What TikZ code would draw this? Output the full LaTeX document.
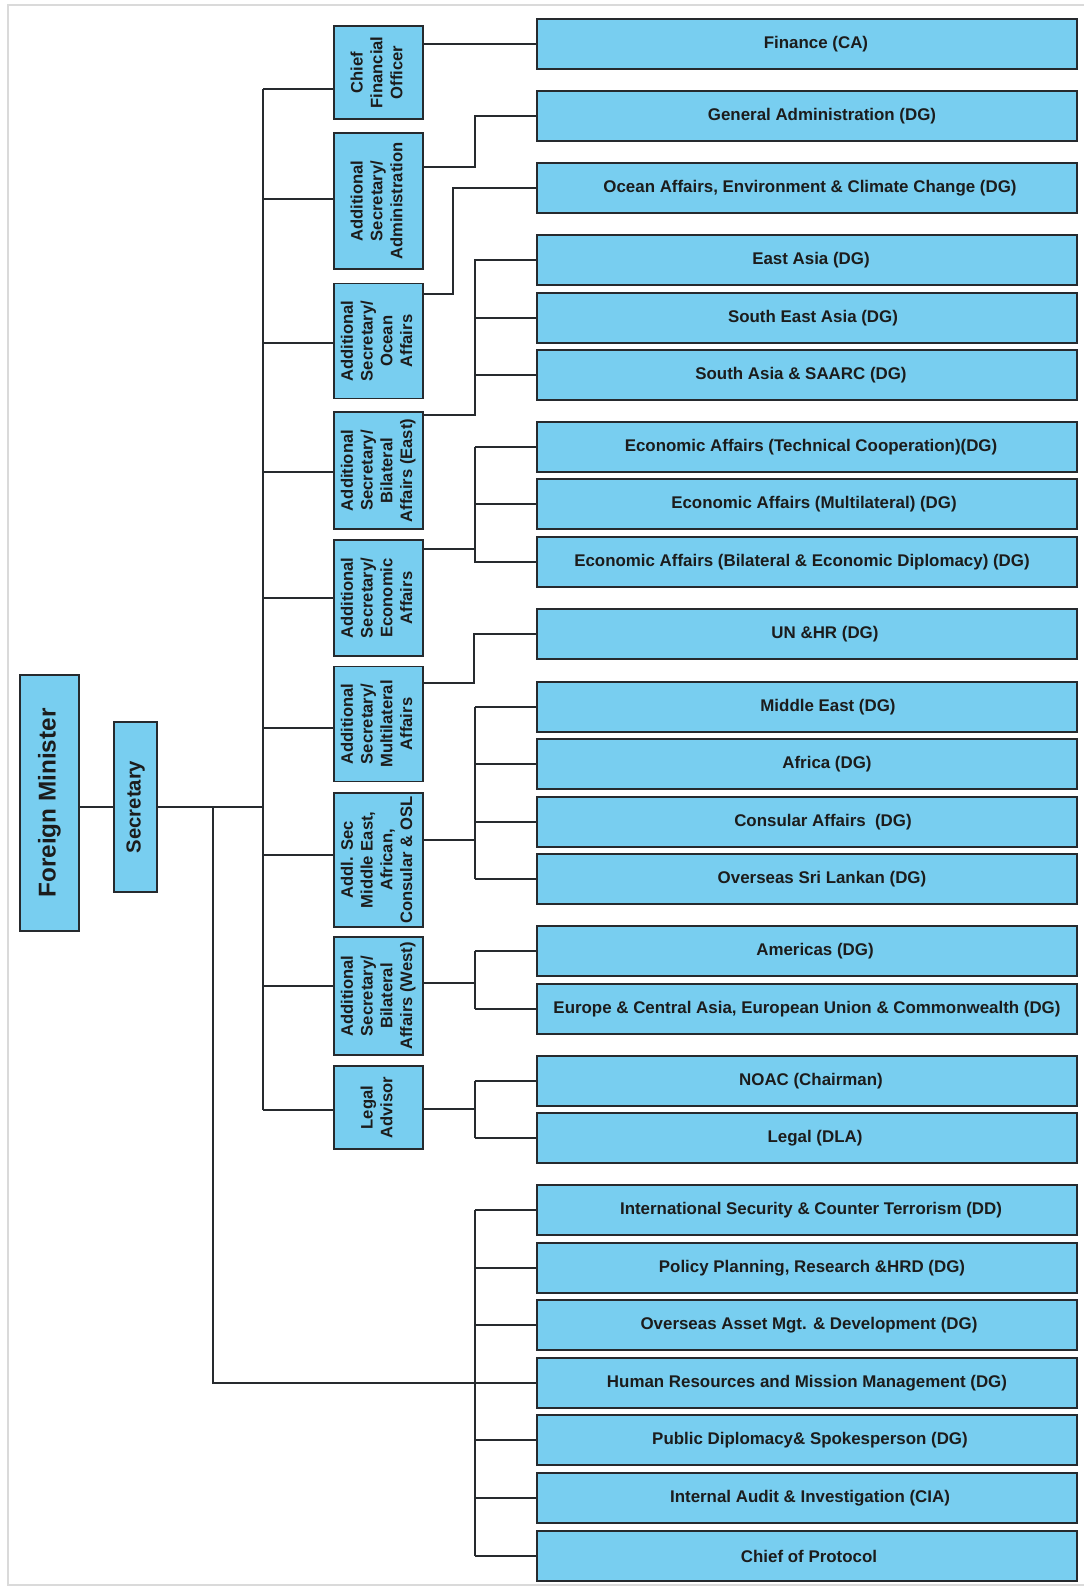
\documentclass[tikz,border=0pt]{standalone}
\usepackage{fontspec}
\usepackage{graphicx}
\setmainfont{Liberation Sans}
\usetikzlibrary{calc}
\definecolor{boxblue}{HTML}{78CEF0}
\definecolor{edge}{HTML}{262A2E}
\definecolor{txt}{HTML}{1C1C1C}
\definecolor{framegray}{HTML}{DADADA}
\newcommand{\vlab}[1]{\rotatebox{90}{\begin{tabular}{@{}c@{}}#1\end{tabular}}}
\newcommand{\shft}[1]{\hspace*{#1pt}}
\begin{document}
\begin{tikzpicture}[x=1pt,y=-1pt,
  box/.style={draw=edge, fill=boxblue, line width=1.8pt, inner sep=0pt, text=txt},
  rbox/.style={box, minimum width=540pt, minimum height=50.5pt, font=\fontsize{16.9}{20}\selectfont\bfseries},
  mbox/.style={box, minimum width=89pt, font=\fontsize{16.6}{19.8}\selectfont\bfseries},
  conn/.style={draw=edge, line width=1.9pt}]
\useasboundingbox (0,0) rectangle (1084,1588);
\draw[framegray, line width=1.5pt] (1084,5) -- (8,5) -- (8,1585) -- (1084,1585);

% left column
\node[box, minimum width=58.7pt, minimum height=256pt, font=\fontsize{24.3}{28}\selectfont\bfseries] (fm) at (49.3,803) {\rotatebox{90}{Foreign Minister}};
\node[box, minimum width=43.3pt, minimum height=170pt, font=\fontsize{20.3}{23}\selectfont\bfseries] (sec) at (135.7,807) {\rotatebox{90}{Secretary}};

% middle column
\node[mbox, minimum height=93pt] (cfo) at (378.5,72.5) {\vlab{Chief\\Financial\\Officer}};
\node[mbox, minimum height=136pt] (adm) at (378.5,201) {\vlab{Additional\\Secretary/\\Administration}};
\node[mbox, minimum height=115pt] (ocn) at (378.5,341) {\vlab{Additional\\Secretary/\\Ocean\\Affairs}};
\node[mbox, minimum height=117.6pt] (be) at (378.5,470.5) {\vlab{Additional\\Secretary/\\Bilateral\\Affairs (East)}};
\node[mbox, minimum height=115.7pt] (ec) at (378.5,598) {\vlab{Additional\\Secretary/\\Economic\\Affairs}};
\node[mbox, minimum height=115pt] (mu) at (378.5,724) {\vlab{Additional\\Secretary/\\Multilateral\\Affairs}};
\node[mbox, minimum height=134pt] (mea) at (378.5,860) {\vlab{Addl. Sec\\Middle East,\\African,\\Consular \& OSL}};
\node[mbox, minimum height=118pt] (bw) at (378.5,996) {\vlab{Additional\\Secretary/\\Bilateral\\Affairs (West)}};
\node[mbox, minimum height=83pt] (la) at (378.5,1107.5) {\vlab{Legal\\Advisor}};

% right column
\node[rbox] (fin) at (807,44) {\shft{18}Finance (CA)};
\node[rbox] (ga) at (807,116) {\shft{30}General Administration (DG)};
\node[rbox] (oa) at (807,188) {\shft{6}Ocean Affairs, Environment \& Climate Change (DG)};
\node[rbox] (ea) at (807,260) {\shft{8}East Asia (DG)};
\node[rbox] (sea) at (807,318) {\shft{12}South East Asia (DG)};
\node[rbox] (sa) at (807,375) {\shft{-12}South Asia \& SAARC (DG)};
\node[rbox] (tc) at (807,447) {\shft{8}Economic Affairs (Technical Cooperation)(DG)};
\node[rbox] (em) at (807,504) {\shft{14}Economic Affairs (Multilateral) (DG)};
\node[rbox] (eb) at (807,562) {\shft{-10}Economic Affairs (Bilateral \& Economic Diplomacy) (DG)};
\node[rbox] (un) at (807,634) {\shft{36}UN \&HR (DG)};
\node[rbox] (mde) at (807,707) {\shft{42}Middle East (DG)};
\node[rbox] (af) at (807,764) {\shft{40}Africa (DG)};
\node[rbox] (co) at (807,822) {\shft{32}Consular Affairs\ \ (DG)};
\node[rbox] (os) at (807,879) {\shft{30}Overseas Sri Lankan (DG)};
\node[rbox] (am) at (807,951) {\shft{16}Americas (DG)};
\node[rbox] (eu) at (807,1009) {Europe \& Central Asia, European Union \& Commonwealth (DG)};
\node[rbox] (no) at (807,1081) {\shft{8}NOAC (Chairman)};
\node[rbox] (lg) at (807,1138) {\shft{16}Legal (DLA)};
\node[rbox] (is) at (807,1210) {\shft{8}International Security \& Counter Terrorism (DD)};
\node[rbox] (pp) at (807,1268) {\shft{10}Policy Planning, Research \&HRD (DG)};
\node[rbox] (oam) at (807,1325) {\shft{4}Overseas Asset Mgt. \& Development (DG)};
\node[rbox] (hr) at (807,1383) {Human Resources and Mission Management (DG)};
\node[rbox] (pd) at (807,1440) {\shft{6}Public Diplomacy\& Spokesperson (DG)};
\node[rbox] (ia) at (807,1498) {\shft{6}Internal Audit \& Investigation (CIA)};
\node[rbox] (cp) at (807,1556) {\shft{4}Chief of Protocol};

% minister -> secretary -> trunk
\draw[conn] (fm.east |- sec.west) -- (sec.west);
\coordinate (trTop) at ($(cfo.west)+(-70,16.5)$);
\coordinate (trBot) at ($(la.west)+(-70,2.5)$);
\draw[conn] (trTop) -- (trBot);
\draw[conn] (sec.east) -- (sec.east -| trTop);
\draw[conn] (trTop) -- (trTop -| cfo.west);
\foreach \n/\d in {adm/-2, ocn/2, be/1.5, ec/0, mu/4, mea/-5, bw/-10, la/2.5}{
  \coordinate (p\n) at ($(\n.west)+(0,\d)$);
  \draw[conn] (p\n) -- (p\n -| trTop);
}
% secretary direct branch
\coordinate (sb) at ($(sec.east)+(54.65,0)$);
\draw[conn] (sb) |- (hr.west);
\coordinate (bbx) at ($(hr.west)+(-61,0)$);
\draw[conn] (bbx |- is.west) -- (bbx |- cp.west);
\foreach \n in {is,pp,oam,pd,ia,cp}{\draw[conn] (bbx |- \n.west) -- (\n.west);}

% right-hand branches
\draw[conn] (cfo.east |- fin.west) -- (fin.west);

\coordinate (pa) at ($(adm.east)+(0,-34)$);
\coordinate (xa) at ($(ga.west)+(-61,0)$);
\draw[conn] (pa) -| (xa) -- (ga.west);

\coordinate (po) at ($(ocn.east)+(0,-47)$);
\coordinate (xo) at ($(oa.west)+(-83,0)$);
\draw[conn] (po) -| (xo) -- (oa.west);

\coordinate (pb) at ($(be.east)+(0,-55.5)$);
\coordinate (xb) at ($(ea.west)+(-61,0)$);
\draw[conn] (pb) -| (xb) -- (ea.west);
\draw[conn] (xb |- sea.west) -- (sea.west);
\draw[conn] (xb |- sa.west) -- (sa.west);

\coordinate (pe) at ($(ec.east)+(0,-49)$);
\coordinate (xe) at ($(eb.west)+(-61,0)$);
\draw[conn] (xe |- tc.west) -- (tc.west);
\draw[conn] (xe |- tc.west) -- (xe) -- (eb.west);
\draw[conn] (xe |- em.west) -- (em.west);
\draw[conn] (pe) -- (pe -| xe);

\coordinate (pm) at ($(mu.east)+(0,-41)$);
\coordinate (xm) at ($(un.west)+(-62,0)$);
\draw[conn] (pm) -| (xm) -- (un.west);

\coordinate (pme) at ($(mea.east)+(0,-20)$);
\coordinate (xme) at ($(mde.west)+(-61,0)$);
\draw[conn] (xme) -- (xme |- os.west);
\foreach \n in {mde,af,co,os}{\draw[conn] (xme |- \n.west) -- (\n.west);}
\draw[conn] (pme) -- (pme -| xme);

\coordinate (pw) at ($(bw.east)+(0,-13)$);
\coordinate (xw) at ($(am.west)+(-61,0)$);
\draw[conn] (xw) -- (xw |- eu.west);
\foreach \n in {am,eu}{\draw[conn] (xw |- \n.west) -- (\n.west);}
\draw[conn] (pw) -- (pw -| xw);

\coordinate (pl) at ($(la.east)+(0,1.5)$);
\coordinate (xl) at ($(no.west)+(-61,0)$);
\draw[conn] (xl) -- (xl |- lg.west);
\foreach \n in {no,lg}{\draw[conn] (xl |- \n.west) -- (\n.west);}
\draw[conn] (pl) -- (pl -| xl);
\end{tikzpicture}
\end{document}
